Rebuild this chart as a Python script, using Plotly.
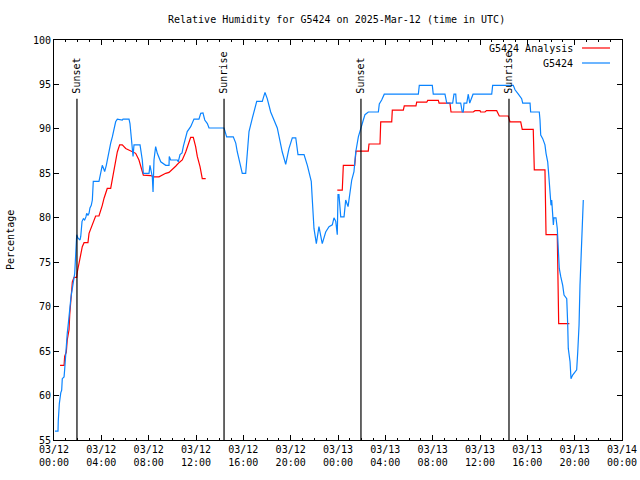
import plotly.graph_objects as go
from datetime import datetime, timedelta

# ---- data (hours since 2025-03-12 00:00 UTC, relative humidity %) ----
obs_hours = [0.08, 0.34, 0.36, 0.45, 0.57, 0.65, 0.70, 0.85, 0.90, 0.99, 1.07, 1.12, 1.21, 1.27, 1.33,
             1.41, 1.46, 1.55, 1.63, 1.69, 1.75, 1.80, 1.86, 1.92, 2.03, 2.11, 2.20, 2.26, 2.37, 2.48,
             2.59, 2.70, 2.76, 2.87, 2.96, 3.04, 3.15, 3.24, 3.32, 3.80, 3.95, 4.08, 4.23, 4.28, 4.42,
             4.50, 4.65, 4.79, 4.93, 5.07, 5.21, 5.35, 5.77, 5.83, 6.34, 6.42, 6.53, 6.68, 6.76, 7.27,
             7.46, 7.55, 8.03, 8.11, 8.31, 8.37, 8.45, 8.59, 8.73, 9.02, 9.44, 9.72, 9.74, 9.86, 10.42,
             10.50, 10.65, 10.82, 10.94, 11.13, 11.26, 11.55, 11.83, 12.25, 12.40, 12.59, 12.74, 12.96, 13.10, 14.37,
             14.59, 15.15, 15.36, 15.49, 15.78, 15.91, 16.20, 16.28, 16.48, 16.76, 17.13, 17.60, 17.83, 18.02, 18.31,
             18.87, 19.29, 19.58, 19.86, 20.14, 20.43, 20.62, 21.13, 21.41, 21.74, 21.83, 21.97, 22.17, 22.39, 22.67,
             22.96, 23.24, 23.52, 23.66, 23.81, 23.94, 24.00, 24.08, 24.23, 24.51, 24.65, 24.85, 25.01, 25.16, 25.35,
             25.50, 25.72, 25.94, 26.14, 26.28, 26.56, 27.41, 27.49, 27.69, 27.91, 30.79, 30.87, 31.97, 32.05, 33.04,
             33.19, 33.69, 33.80, 33.95, 34.00, 34.37, 34.50, 34.59, 34.65, 34.88, 35.01, 35.13, 35.41, 36.99, 37.07,
             38.81, 38.96, 39.24, 39.52, 39.61, 40.23, 40.28, 41.01, 41.07, 41.13, 41.30, 41.49, 41.58, 41.72, 41.80,
             41.91, 42.00, 42.06, 42.11, 42.20, 42.25, 42.42, 42.53, 42.62, 42.70, 42.82, 42.99, 43.10, 43.33, 43.41,
             43.46, 43.61, 43.69, 43.83, 44.17, 44.26, 44.37, 44.45, 44.59, 44.68, 44.73]
obs_values = [56.0, 56.0, 57.1, 59.1, 60.3, 60.6, 61.9, 62.1, 62.9, 64.9, 66.1, 67.0, 68.1, 69.25, 70.0,
              70.75, 71.3, 71.9, 72.6, 73.2, 73.75, 75.1, 77.1, 78.1, 77.7, 77.6, 77.5, 77.9, 79.6, 79.9,
              79.75, 80.1, 80.5, 80.3, 80.5, 81.1, 81.4, 82.0, 84.1, 84.1, 85.0, 85.9, 85.4, 85.2, 85.9,
              86.5, 87.4, 88.4, 89.1, 89.9, 90.8, 91.1, 91.0, 91.1, 91.1, 90.6, 88.6, 86.9, 88.2, 88.2,
              86.5, 85.0, 85.0, 85.9, 84.6, 82.9, 86.5, 88.0, 87.25, 86.3, 85.9, 85.9, 86.9, 86.5, 86.5,
              86.3, 87.1, 87.3, 88.1, 88.9, 89.7, 90.25, 91.1, 91.1, 91.75, 91.8, 91.0, 90.6, 90.1, 90.1,
              89.1, 89.1, 88.4, 87.4, 85.6, 85.0, 85.0, 86.7, 89.7, 91.2, 93.1, 93.1, 94.1, 93.4, 91.9,
              90.1, 87.4, 86.0, 87.8, 89.0, 89.0, 87.1, 87.1, 85.9, 84.1, 82.0, 78.8, 77.1, 79.0, 77.1,
              78.4, 79.0, 79.2, 80.0, 79.6, 78.1, 82.6, 82.6, 80.1, 80.1, 82.0, 81.25, 82.75, 84.25, 85.2,
              87.4, 89.1, 90.25, 91.0, 91.6, 91.9, 91.9, 92.8, 93.25, 93.9, 93.9, 94.9, 94.9, 93.9, 93.9,
              92.9, 92.9, 93.9, 93.9, 92.9, 92.9, 91.9, 91.9, 92.9, 92.9, 93.9, 92.9, 93.9, 93.9, 94.9,
              94.9, 94.4, 93.9, 93.4, 92.9, 92.9, 91.9, 91.9, 91.0, 89.3, 88.9, 88.2, 87.25, 86.3, 85.0,
              82.6, 81.4, 82.0, 81.1, 79.2, 80.0, 80.0, 78.8, 76.4, 74.3, 73.4, 72.4, 71.3, 70.9, 68.1,
              65.3, 63.8, 61.9, 62.3, 62.9, 64.9, 67.9, 72.4, 77.7, 80.7, 82.0]

ana_hours = [0.51, 0.85, 0.90, 1.04, 1.12, 1.27, 1.33, 1.41, 1.46, 1.55, 1.69, 1.92, 1.97, 2.11, 2.26,
             2.39, 2.54, 2.87, 2.96, 3.24, 3.38, 3.52, 3.80, 3.95, 4.08, 4.23, 4.50, 4.79, 5.07, 5.35,
             5.55, 5.77, 6.06, 6.34, 6.62, 6.90, 7.18, 7.38, 7.55, 8.17, 8.45, 8.87, 9.15, 9.44, 9.72,
             10.00, 10.28, 10.56, 10.84, 11.13, 11.41, 11.55, 11.77, 11.97, 12.11, 12.34, 12.53, 12.82,
             None,
             23.94, 24.36, 24.45, 25.41, 25.52, 26.56, 26.62, 27.55, 27.61, 28.54, 28.59, 29.52, 29.60, 30.59,
             30.65, 31.50, 31.58, 32.48, 32.54, 33.46, 33.55, 35.43, 35.58, 36.00, 36.05, 36.42, 36.55, 37.41,
             37.63, 38.39, 38.53, 39.44, 39.57, 40.50, 40.59, 41.49, 41.58, 42.53, 42.65, 43.55]
ana_values = [63.4, 63.4, 64.4, 64.9, 66.25, 67.4, 69.1, 70.75, 71.7, 72.8, 73.3, 73.3, 73.9, 74.9, 76.0,
              76.75, 77.2, 77.2, 78.25, 79.2, 79.9, 80.2, 80.2, 80.8, 81.4, 82.2, 83.3, 83.3, 85.2, 87.4,
              88.2, 88.2, 87.8, 87.6, 87.4, 87.25, 86.5, 85.6, 84.8, 84.75, 84.6, 84.6, 84.8, 85.0, 85.1,
              85.4, 85.8, 86.2, 86.5, 87.4, 88.6, 89.05, 89.05, 88.0, 86.9, 85.75, 84.4, 84.4,
              None,
              83.1, 83.1, 85.9, 85.9, 87.5, 87.5, 88.3, 88.3, 90.8, 90.8, 92.1, 92.1, 92.6, 92.6,
              93.0, 93.0, 93.2, 93.2, 92.9, 92.9, 91.9, 91.9, 92.05, 92.05, 91.9, 91.9, 92.05, 92.05,
              91.45, 91.45, 90.8, 90.8, 89.95, 89.95, 85.4, 85.4, 78.1, 78.1, 68.1, 68.1]

sun_hours = [1.94, 14.37, 25.94, 38.45]
sun_labels = ["Sunset", "Sunrise", "Sunset", "Sunrise"]
sun_line_top = 93.4

base = datetime(2025, 3, 12)


def to_time(h):
    return None if h is None else (base + timedelta(hours=h)).strftime("%Y-%m-%d %H:%M:%S")


FONT = "DejaVu Sans Mono"
RED = "#ff0000"
BLUE = "#0a84ff"

fig = go.Figure()

fig.add_trace(go.Scatter(x=[to_time(h) for h in ana_hours], y=ana_values, mode="lines",
                         name="G5424 Analysis", line=dict(color=RED, width=1.2),
                         connectgaps=False, showlegend=False))
fig.add_trace(go.Scatter(x=[to_time(h) for h in obs_hours], y=obs_values, mode="lines",
                         name="G5424", line=dict(color=BLUE, width=1.2), showlegend=False))

for h, lab in zip(sun_hours, sun_labels):
    t = to_time(h)
    fig.add_trace(go.Scatter(x=[t, t], y=[55, sun_line_top], mode="lines",
                             line=dict(color="black", width=1.2), showlegend=False, hoverinfo="skip"))
    fig.add_annotation(x=t, y=sun_line_top, text=lab, textangle=-90, showarrow=False,
                       xanchor="center", yanchor="bottom", yshift=3,
                       font=dict(family=FONT, size=10, color="black"))

# manual legend (gnuplot style: text left of sample)
legend_rows = [("G5424 Analysis", RED, 0.98), ("G5424", BLUE, 0.9425)]
for text, col, yp in legend_rows:
    fig.add_annotation(x=0.917, y=yp, xref="paper", yref="paper", text=text, showarrow=False,
                       xanchor="right", yanchor="middle", font=dict(family=FONT, size=10, color="black"))
    fig.add_shape(type="line", xref="paper", yref="paper", x0=0.9296, x1=0.9789, y0=yp, y1=yp,
                  line=dict(color=col, width=1.2))

# title and y-axis label as annotations (fixed positions)
fig.add_annotation(x=0.497, y=1.0525, xref="paper", yref="paper",
                   text="Relative Humidity for G5424 on 2025-Mar-12 (time in UTC)",
                   showarrow=False, xanchor="center", yanchor="middle",
                   font=dict(family=FONT, size=10, color="black"))
fig.add_annotation(x=-0.0775, y=0.5, xref="paper", yref="paper", text="Percentage",
                   textangle=-90, showarrow=False, xanchor="center", yanchor="middle",
                   font=dict(family=FONT, size=10, color="black"))

fig.update_layout(
    width=640, height=480,
    margin=dict(l=54, r=18, t=40, b=40, autoexpand=False),
    paper_bgcolor="white", plot_bgcolor="white",
    font=dict(family=FONT, size=10, color="black"),
)

fig.update_xaxes(
    type="date", automargin=False,
    range=[to_time(0), to_time(48)],
    dtick=4 * 3600 * 1000, tick0=to_time(0),
    tickformat="%m/%d<br>%H:%M",
    ticks="inside", ticklen=5, tickcolor="black", tickwidth=1,
    ticklabeloverflow="allow",
    minor=dict(dtick=3600 * 1000, ticks="inside", ticklen=2, tickcolor="black", showgrid=False),
    showline=True, linecolor="black", linewidth=1, mirror="allticks",
    showgrid=False, zeroline=False,
    tickfont=dict(family=FONT, size=10),
)
fig.update_yaxes(
    automargin=False,
    range=[55, 100], dtick=5, tick0=55,
    ticks="inside", ticklen=5, tickcolor="black", tickwidth=1,
    showline=True, linecolor="black", linewidth=1, mirror="allticks",
    showgrid=False, zeroline=False,
    tickfont=dict(family=FONT, size=10),
)

# remove the default page margin so the 640x480 figure fills the window exactly
fig.write_html("out.html", config={"displayModeBar": False},
               post_script="document.body.style.margin='0px';")
